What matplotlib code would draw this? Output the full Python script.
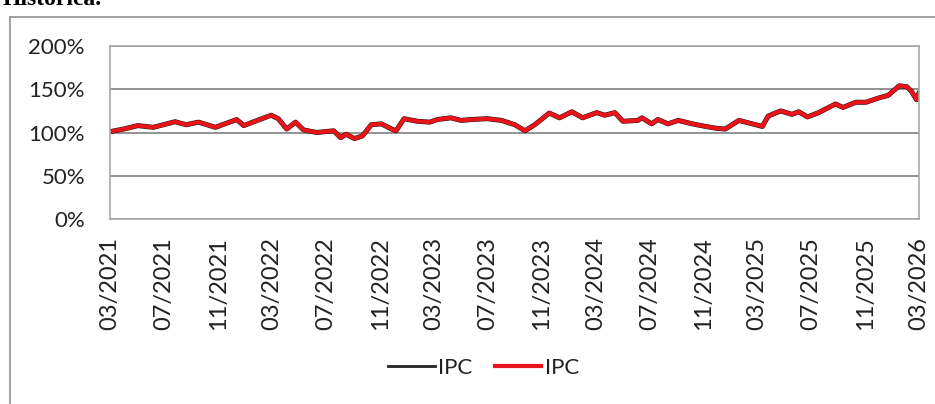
import matplotlib
matplotlib.use("Agg")
import matplotlib.pyplot as plt
import pandas as pd

# Values (IPC, % of start value)
dates = [
    "2021-03-01", "2021-04-01", "2021-05-03", "2021-06-07", "2021-07-26",
    "2021-08-20", "2021-09-17", "2021-10-25", "2021-12-12", "2021-12-28",
    "2022-01-20", "2022-02-28", "2022-03-16", "2022-04-04", "2022-04-24",
    "2022-05-12", "2022-06-11", "2022-07-19", "2022-08-04", "2022-08-16",
    "2022-09-04", "2022-09-22", "2022-10-12", "2022-11-04", "2022-11-27",
    "2022-12-07", "2022-12-25", "2023-01-24", "2023-02-21", "2023-03-10",
    "2023-04-10", "2023-05-03", "2023-05-25", "2023-07-01", "2023-08-02",
    "2023-09-01", "2023-09-24", "2023-10-16", "2023-11-18", "2023-12-11",
    "2024-01-08", "2024-02-01", "2024-03-04", "2024-03-22", "2024-04-14",
    "2024-05-02", "2024-06-05", "2024-06-14", "2024-07-06", "2024-07-20",
    "2024-08-12", "2024-09-04", "2024-10-06", "2024-11-05", "2024-11-28",
    "2024-12-19", "2025-01-19", "2025-02-11", "2025-03-13", "2025-03-26",
    "2025-04-23", "2025-05-19", "2025-06-03", "2025-06-23", "2025-07-18",
    "2025-08-25", "2025-09-11", "2025-10-10", "2025-11-02", "2025-12-01",
    "2025-12-22", "2026-01-16", "2026-02-02", "2026-02-12", "2026-02-24",
    "2026-03-01",
]
ipc = [
    101, 104, 108, 106, 112.5,
    109, 112, 106, 115, 108,
    112.5, 120, 116, 104, 112,
    103, 100, 102, 94, 98,
    93, 96, 109, 110, 104,
    102, 116, 113, 112, 115,
    117, 114, 115, 116, 114,
    109, 102, 109, 122.5, 117,
    124, 117, 123, 120, 123,
    113, 114, 117, 110, 115,
    110, 114, 110, 107, 105,
    104, 114, 111, 107, 119,
    125, 121, 124, 118, 123,
    133, 129, 135, 135, 140,
    143, 154, 153, 148, 138,
    145,
]
tick_dates = [
    "2021-03-01", "2021-07-01", "2021-11-01", "2022-03-01", "2022-07-01",
    "2022-11-01", "2023-03-01", "2023-07-01", "2023-11-01", "2024-03-01",
    "2024-07-01", "2024-11-01", "2025-03-01", "2025-07-01", "2025-11-01",
    "2026-03-01",
]
y_ticks = [0, 50, 100, 150, 200]

x = pd.to_datetime(dates)
xt = pd.to_datetime(tick_dates)

plt.rcParams["font.family"] = ["Lato", "DejaVu Sans"]

fig = plt.figure(figsize=(9.35, 4.04), dpi=100)
ax = fig.add_axes([0.1176, 0.458, 0.865, 0.428])

# black series sits under the red one
ax.plot(x, ipc, color="#2a1010", lw=3.6, label="IPC", solid_joinstyle="round")
ax.plot(x, ipc, color="#e8141a", lw=2.9, label="IPC", solid_joinstyle="round")

ax.set_xlim(xt[0], xt[-1])
ax.set_ylim(0, 200)
ax.set_yticks(y_ticks)
ax.set_yticklabels([f"{v}%" for v in y_ticks])
ax.set_xticks(xt)
ax.set_xticklabels([d.strftime("%m/%Y") for d in xt], rotation=90)
ax.tick_params(axis="both", length=0, colors="#222222")
ax.tick_params(axis="y", pad=18, labelsize=16)
ax.tick_params(axis="x", pad=13, labelsize=17)

ax.grid(axis="y", color="#8a8a8a", lw=1.3)
for s in ax.spines.values():
    s.set_color("#a8a8a8")
    s.set_linewidth(1.2)

leg = fig.legend(loc="center", bbox_to_anchor=(0.517, 0.089), ncol=2,
                 frameon=False, fontsize=16, handlelength=2.1,
                 handletextpad=0.15, columnspacing=1.0)
for t in leg.get_texts():
    t.set_color("#222222")
leg.get_lines()[0].set_linewidth(2.0)
leg.get_lines()[0].set_color("#222222")
leg.get_lines()[1].set_linewidth(3.0)

# outer chart frame and clipped heading from the scan
fig.add_artist(plt.Line2D([0.011, 0.011], [0.0, 0.957], color="#9a9a9a", lw=1.3))
fig.add_artist(plt.Line2D([0.011, 1.0], [0.957, 0.957], color="#9a9a9a", lw=1.3))
fig.text(0.003, 1 - 5 / 404, "Histórica.", fontsize=17, fontweight="bold",
         family="Liberation Serif", va="baseline", ha="left")

fig.savefig("out.png", dpi=100)
